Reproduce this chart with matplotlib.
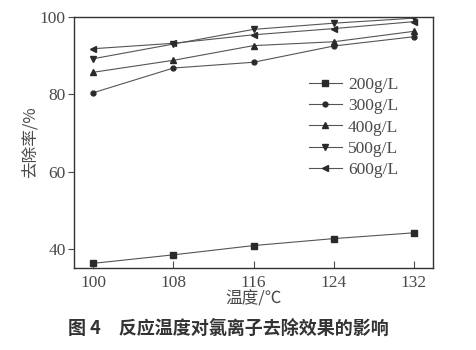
import numpy as np
import matplotlib
matplotlib.use("Agg")
import matplotlib.pyplot as plt

plt.rcParams['font.family'] = ['Liberation Serif', 'Noto Sans CJK SC']
plt.rcParams['axes.unicode_minus'] = False

# 反应温度 (℃)
temps = [100, 108, 116, 124, 132]
# 各浓度下的去除率 (%)
r200 = [36.3, 38.5, 40.9, 42.7, 44.2]
r300 = [80.4, 86.8, 88.3, 92.5, 94.9]
r400 = [85.7, 88.8, 92.6, 93.6, 96.3]
r500 = [89.2, 93.0, 96.8, 98.4, 99.7]
r600 = [91.8, 93.2, 95.4, 97.0, 98.8]
labels = ['200g/L', '300g/L', '400g/L', '500g/L', '600g/L']
markers = ['s', 'o', '^', 'v', '<']
sizes = [4.5, 3.5, 4.5, 4.5, 4.5]
xticks = [100, 108, 116, 124, 132]
yticks = [40, 60, 80, 100]

txt = '#4a4a4a'
fig = plt.figure(figsize=(4.76, 3.5), dpi=100)
ax = fig.add_axes([74/476, 1-268/350, (433-74)/476, (268-17)/350])

for ys, lab, mk, ms in zip([r200, r300, r400, r500, r600], labels, markers, sizes):
    ax.plot(temps, ys, color='#555555', lw=0.8, marker=mk, ms=ms,
            mfc='#2a2a2a', mec='#2a2a2a', label=lab)

ax.set_xlim(98.1, 133.9)
ax.set_ylim(35.1, 100)
ax.set_xticks(xticks)
ax.set_yticks(yticks)
ax.tick_params(axis='x', direction='in', length=5, colors=txt, labelsize=12.5, pad=5)
ax.tick_params(axis='y', direction='out', length=4, colors=txt, labelsize=12.5, pad=2)
for s in ax.spines.values():
    s.set_color('#333333')
    s.set_linewidth(1.0)

ax.set_xlabel('温度/℃', family=['Noto Sans CJK SC'], fontsize=12, color=txt, labelpad=0)
ax.set_ylabel('去除率/%', family=['Noto Sans CJK SC'], fontsize=12, color=txt, labelpad=1)

leg = ax.legend(loc='upper left', bbox_to_anchor=(0.635, 0.79), frameon=False,
                fontsize=12.5, handlelength=1.9, handletextpad=0.35,
                labelspacing=0.3, borderaxespad=0)
for t in leg.get_texts():
    t.set_color(txt)

fig.text(68/476, 1-328/350, '图 4　反应温度对氯离子去除效果的影响',
         family=['Noto Sans CJK SC'], fontsize=13, weight='bold',
         color='#333333', va='center', ha='left')

fig.savefig('out.png', dpi=100)
